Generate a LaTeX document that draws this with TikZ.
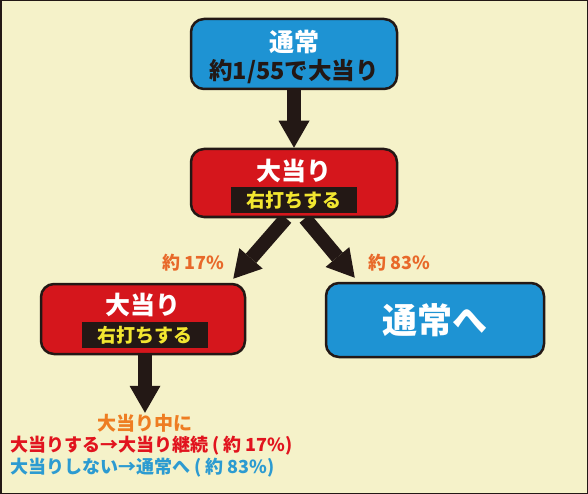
\documentclass[tikz,border=0pt]{standalone}
\usepackage{fontspec}
\setmainfont{Noto Sans CJK JP}
\usepackage{tikz}
\usetikzlibrary{arrows.meta,positioning,calc,backgrounds}
\definecolor{cream}{HTML}{F5F2C9}
\definecolor{ink}{HTML}{231815}
\definecolor{sky}{HTML}{1E93D3}
\definecolor{hitred}{HTML}{D5161C}
\definecolor{lamp}{HTML}{F2E630}
\definecolor{rate}{HTML}{E8692A}
\definecolor{note}{HTML}{EE7D22}
\definecolor{keep}{HTML}{E1141E}
\definecolor{lose}{HTML}{2C9BD1}
\newcommand{\fsz}[1]{\fontsize{#1}{#1}\selectfont}
\tikzstyle{Abox}=[draw=ink,line width=2.5pt,rounded corners=13pt]
\tikzstyle{Ablue}=[Abox,fill=sky]
\tikzstyle{Ared}=[Abox,fill=hitred]
\tikzstyle{Atag}=[fill=ink,minimum width=126pt,minimum height=26pt,inner sep=0,
               text=lamp,font=\bfseries\fsz{19pt}]
\tikzstyle{Ahead}=[text=white,inner sep=0,font=\bfseries\fsz{25pt}]
\tikzstyle{fat}=[draw=ink,line width=14pt,-{Triangle[width=31pt,length=27pt,line width=0pt]}]
\tikzstyle{rateL}=[text=rate,font=\bfseries\fsz{18pt},inner sep=0]
\tikzstyle{sumL}=[anchor=west,inner sep=0,font=\bfseries\fsz{18pt}]
\begin{document}
\begin{tikzpicture}[x=1pt,y=-1pt]
  \begin{scope}[on background layer]
    \fill[cream,draw=ink,line width=1.5pt] (0.75,0.75) rectangle (587.25,493.25);
  \end{scope}
  \useasboundingbox (0,0) rectangle (588,494);

  % boxes
  \node[Ablue,minimum width=206pt,minimum height=70pt] (nrm) at (294,54) {};
  \node[Ahead] (nrmT) at (294,42) {通常};
  \node[text=ink,inner sep=0,font=\bfseries\fsz{23.5pt}] (nrmP) at (294,72) {約1/55で大当り};

  \node[Ared,minimum width=206pt,minimum height=68pt] (bb) at (294,183) {};
  \node[Ahead] (bbT) at (294,171) {大当り};
  \node[Atag] (bbR) at (294,200) {右打ちする};

  \node[Ared,minimum width=204pt,minimum height=70pt] (bb2) at (143,319) {};
  \node[Ahead] (bb2T) at (143,305) {大当り};
  \node[Atag] (bb2R) at (144.5,335) {右打ちする};

  \node[Ablue,minimum width=218pt,minimum height=74pt] (nrm2) at (435,320) {};
  \node[Ahead,font=\bfseries\fsz{35pt}] (nrm2T) at (435,320) {通常へ};

  % texts
  \node[rateL] (p17) at (193,263) {約 17\%};
  \node[rateL] (p83) at (399,263) {約 83\%};
  \node[text=note,inner sep=1pt,font=\bfseries\fsz{19pt}] (cap) at (145,423) {大当り中に};
  \node[sumL,text=keep] (l1) at (10,446) {大当りする→大当り継続 ( 約 17\%)};
  \node[sumL,text=lose] (l2) at (10,468) {大当りしない→通常へ ( 約 83\%)};

  % arrows
  \begin{scope}[on background layer]
    \draw[fat] (nrm.south) -- (bb.north);
    \draw[fat] ($(bb.south)+(-8,0)$) -- ($(bb2.north east)+(-13,-4)$);
    \draw[fat] ($(bb.south)+(11,0)$) -- ($(nrm2.north west)+(30,-4)$);
    \draw[fat] ([xshift=2pt]bb2.south) -- (cap.north);
  \end{scope}
\end{tikzpicture}
\end{document}
